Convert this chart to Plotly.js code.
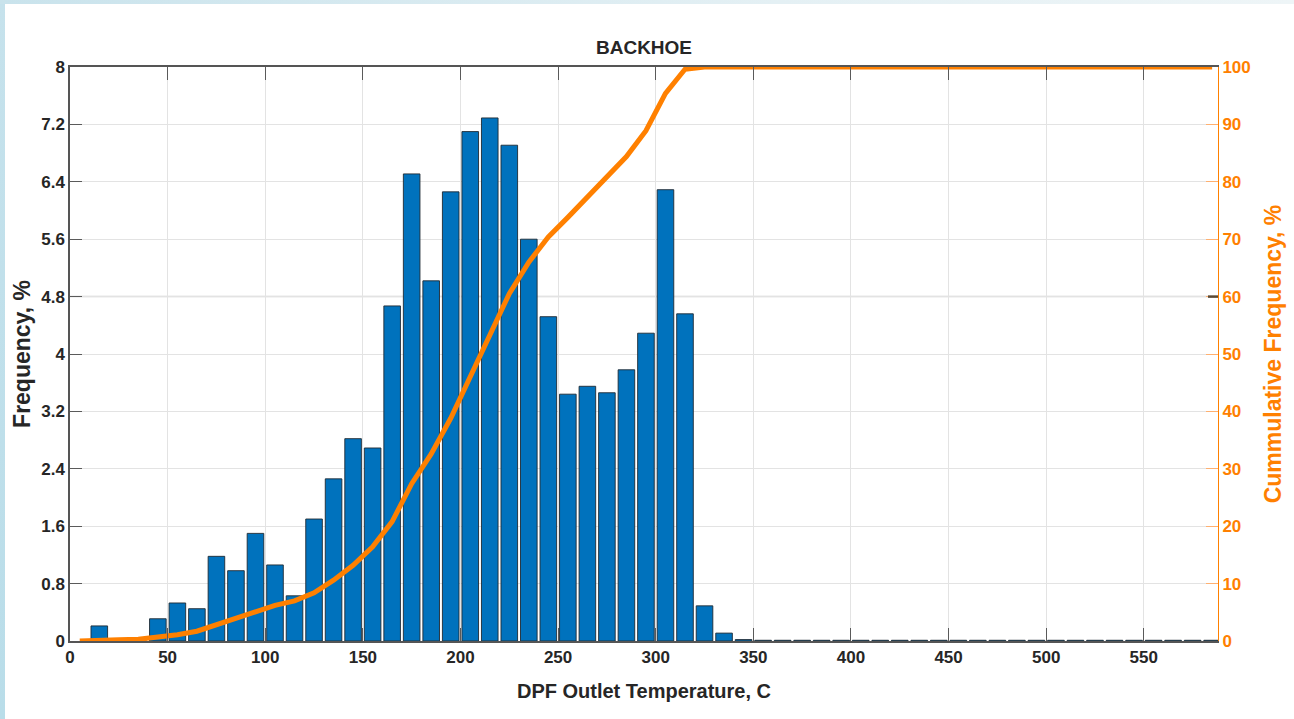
<!DOCTYPE html>
<html>
<head>
<meta charset="utf-8">
<script src="https://cdn.plot.ly/plotly-3.0.1.min.js"></script>
<style>
html,body{margin:0;padding:0;background:#ffffff;overflow:hidden;}
#chart{position:absolute;left:0;top:0;width:1294px;height:719px;}
#stripL{position:absolute;left:0;top:0;width:5px;height:719px;background:linear-gradient(#c6e2ec,#b9dde9);z-index:5;}
#stripT{position:absolute;left:0;top:0;width:1294px;height:4px;background:linear-gradient(90deg,#c9e3ec,#e4f0f4 60%,#eef5f7);z-index:5;}
</style>
</head>
<body>
<div id="chart"></div>
<div id="stripL"></div>
<div id="stripT"></div>
<script>
// Bin centers (DPF outlet temperature, C)
const binCenters = [5,15,25,35,45,55,65,75,85,95,105,115,125,135,145,155,165,175,185,195,
  205,215,225,235,245,255,265,275,285,295,305,315,325,335,345,355,365,375,385,395,
  405,415,425,435,445,455,465,475,485,495,505,515,525,535,545,555,565,575,585];
// Frequency, %
const frequency = [0,0.21,0,0,0.31,0.53,0.45,1.18,0.98,1.50,1.06,0.63,1.70,2.26,2.82,2.69,
  4.67,6.51,5.02,6.26,7.10,7.29,6.91,5.60,4.52,3.44,3.55,3.46,3.78,4.29,6.29,4.56,0.49,0.11,0.02,
  0.01,0.01,0.01,0.01,0.01,0.01,0.01,0.01,0.01,0.01,0.01,0.01,0.01,0.01,0.01,0.01,0.01,0.01,0.01,0.01,0.01,0.01,0.01,0.01];
// Cumulative frequency, %
const cumulative = [0,0.2,0.2,0.3,0.6,1.1,1.7,2.8,3.8,5.0,6.2,7.0,8.4,10.6,13.2,16.4,
  20.8,27.4,32.6,38.8,45.9,53.2,60.5,66.0,70.4,73.8,77.3,80.7,84.4,88.9,95.4,99.6,100,100,100,
  100,100,100,100,100,100,100,100,100,100,100,100,100,100,100,100,100,100,100,100,100,100,100,100];
const yTickVals = [0,0.8,1.6,2.4,3.2,4,4.8,5.6,6.4,7.2,8];
const yTickText = ['0','0.8','1.6','2.4','3.2','4','4.8','5.6','6.4','7.2','8'];
const y2TickVals = [0,10,20,30,40,50,60,70,80,90,100];

const FONT = 'Liberation Sans, Arial, Helvetica, sans-serif';
const ORANGE = '#ff8000';
const DARK = '#262626';

const traces = [
  {
    type:'bar', x: binCenters.slice(1), y: frequency.slice(1), yaxis:'y',
    marker:{color:'#0072bd', line:{color:'#1f2a33', width:0.9}},
    hoverinfo:'x+y', showlegend:false
  },
  {
    type:'scatter', mode:'lines', x: binCenters, y: cumulative, yaxis:'y2',
    line:{color:ORANGE, width:5}, showlegend:false
  }
];

const layout = {
  width:1294, height:719,
  margin:{l:70, r:76, t:67, b:78},
  paper_bgcolor:'rgba(0,0,0,0)', plot_bgcolor:'#ffffff',
  bargap:0.15,
  title:{text:'BACKHOE', xref:'paper', x:0.5, xanchor:'center', yref:'container', y:1-47/719, yanchor:'middle',
    font:{family:FONT, size:19, weight:'bold', color:DARK}},
  xaxis:{
    range:[0,588], tick0:0, dtick:50, showgrid:true, gridcolor:'#e3e3e3', gridwidth:1,
    zeroline:false, showline:true, linecolor:'#555555', linewidth:1.6, mirror:'ticks',
    ticks:'inside', ticklen:13, tickcolor:'#5a5a5a', tickwidth:1,
    tickfont:{family:FONT, size:17, weight:'bold', color:DARK},
    title:{text:'DPF Outlet Temperature, C', standoff:18, font:{family:FONT, size:20, weight:'bold', color:DARK}}
  },
  yaxis:{
    range:[0,8], tickvals:yTickVals, ticktext:yTickText, showgrid:true, gridcolor:'#e3e3e3', gridwidth:1,
    zeroline:false, showline:true, linecolor:'#555555', linewidth:1.6,
    ticks:'inside', ticklen:12, tickcolor:'#5a5a5a', tickwidth:1,
    tickfont:{family:FONT, size:17, weight:'bold', color:DARK},
    title:{text:'Frequency, %', standoff:4, font:{family:FONT, size:23, weight:'bold', color:DARK}}
  },
  yaxis2:{
    overlaying:'y', side:'right', range:[0,100], tickvals:y2TickVals, showgrid:false, zeroline:false,
    showline:true, linecolor:ORANGE, linewidth:1,
    ticks:'inside', ticklen:12, tickcolor:'#ffb070', tickwidth:1,
    tickfont:{family:FONT, size:17, weight:'bold', color:ORANGE},
    title:{text:'Cummulative Frequency, %', standoff:15, font:{family:FONT, size:23, weight:'bold', color:ORANGE}}
  },
  shapes:[
    {type:'line', xref:'paper', yref:'y', x0:0, x1:1, y0:4.8, y1:4.8, line:{color:'#cfcfcf', width:1.5}, layer:'below'},
    {type:'line', xref:'paper', yref:'y', x0:1-10/1148, x1:1, y0:4.8, y1:4.8, line:{color:'#5c4a33', width:2.5}}
  ]
};

Plotly.newPlot('chart', traces, layout, {displayModeBar:false, staticPlot:true});
</script>
</body>
</html>
